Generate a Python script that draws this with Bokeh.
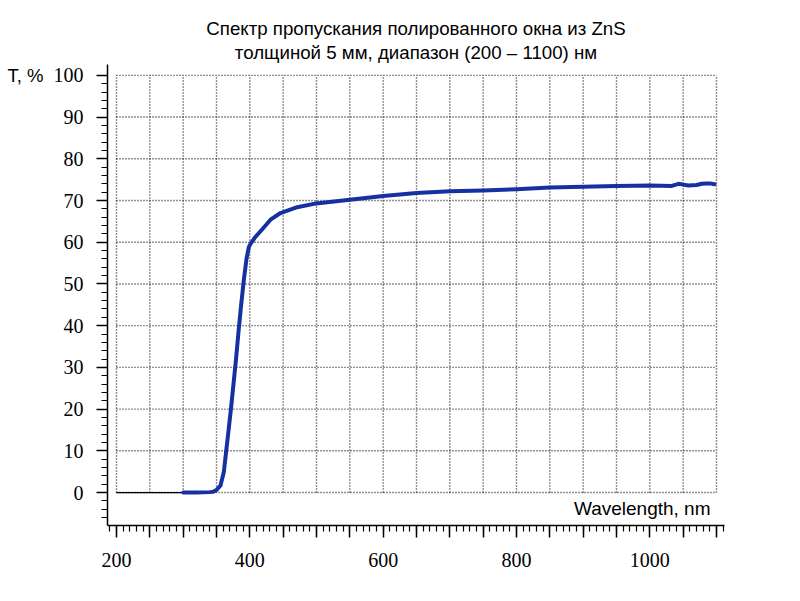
from bokeh.plotting import figure
from bokeh.models import Range1d, FixedTicker, Label, Title, LinearAxis
from bokeh.embed import file_html
from bokeh.resources import INLINE

# ---- data ----
wavelength = [300, 320, 340, 345, 350, 356, 361, 364.5, 368.5, 372, 375.5, 379,
              383, 387, 391, 395, 398.5, 401, 408, 418, 431, 446, 471, 496,
              550, 600, 650, 700, 750, 800, 850, 900, 950, 1000, 1033, 1043,
              1050, 1058, 1070, 1078, 1085, 1090, 1097]
transmission = [0, 0, 0.1, 0.2, 0.6, 1.7, 4.9, 9.9, 15.5, 20.5, 26, 31.5,
                38.5, 45, 51, 56, 58.8, 59.6, 61.2, 63, 65.4, 67, 68.4, 69.2,
                70.2, 71.1, 71.8, 72.2, 72.4, 72.7, 73.1, 73.3, 73.5, 73.6, 73.5, 74.0,
                73.8, 73.6, 73.7, 74.0, 74.1, 74.1, 73.9]
baseline_wl = [200, 300]
baseline_t = [0, 0]

x_major = list(range(200, 1101, 50))
x_labels = [200, 400, 600, 800, 1000]
x_minor = list(range(190, 1111, 10))
y_major = list(range(0, 101, 10))
y_minor = list(range(-6, 101, 2))
x_grid = list(range(200, 1101, 50))
y_grid = list(range(0, 101, 10))

title_line1 = "Спектр пропускания полированного окна из ZnS"
title_line2 = "толщиной 5 мм, диапазон (200 – 1100) нм"
y_title = "T, %"
x_title = "Wavelength, nm"

SANS = "Liberation Sans"
SERIF = "Liberation Serif"

p = figure(width=800, height=601, title=None,
           x_range=Range1d(186.5, 1112), y_range=Range1d(-7.9, 102.6),
           output_backend="svg", toolbar_location=None,
           min_border_left=107, min_border_right=76,
           min_border_bottom=76, min_border_top=64)
p.outline_line_color = None
p.xgrid.visible = False
p.ygrid.visible = False
p.background_fill_color = "white"
p.border_fill_color = "white"

# two centred title lines (second added first: it sits nearest the frame)
p.add_layout(Title(text=title_line2, align="center", text_font=SANS,
                   text_font_size="18.7px", text_font_style="normal",
                   text_color="black", standoff=3), "above")
p.add_layout(Title(text=title_line1, align="center", text_font=SANS,
                   text_font_size="18.7px", text_font_style="normal",
                   text_color="black", standoff=0), "above")

xa = p.xaxis[0]
ya = p.yaxis[0]
for ax in (xa, ya):
    ax.axis_line_color = "black"
    ax.axis_line_width = 1.5
    ax.major_tick_line_color = "black"
    ax.major_tick_line_width = 1.5
    ax.minor_tick_line_color = "black"
    ax.minor_tick_line_width = 1.2
    ax.major_tick_in = 0
    ax.minor_tick_in = 0
    ax.major_label_text_color = "black"
    ax.major_label_text_font = SERIF

xa.major_label_text_font_size = "20px"
ya.major_label_text_font_size = "20px"

xa.ticker = FixedTicker(ticks=x_major, minor_ticks=x_minor)
xa.major_label_overrides = {t: "" for t in x_major if t not in x_labels}
xa.major_tick_out = 12
xa.minor_tick_out = 6
xa.major_label_standoff = 15

ya.ticker = FixedTicker(ticks=y_major, minor_ticks=y_minor)
ya.major_tick_out = 11
ya.minor_tick_out = 6
ya.major_label_standoff = 13

# extra left axis carrying only the "T, %" caption beside the 100 tick
cap_axis = LinearAxis(ticker=FixedTicker(ticks=[y_major[-1]], minor_ticks=[]),
                      major_label_overrides={y_major[-1]: y_title},
                      axis_line_color=None, major_tick_line_color=None,
                      minor_tick_line_color=None, major_tick_out=0, major_tick_in=0,
                      minor_tick_out=0, minor_tick_in=0, major_label_standoff=7,
                      major_label_text_font=SANS, major_label_text_font_size="18.5px",
                      major_label_text_color="black")
p.add_layout(cap_axis, "left")

# dotted grid restricted to the data box
gx = [[g, g] for g in x_grid] + [[x_grid[0], x_grid[-1]] for g in y_grid]
gy = [[y_grid[0], y_grid[-1]] for g in x_grid] + [[g, g] for g in y_grid]
p.multi_line(gx, gy, line_color="#222222", line_width=1.4, line_dash="1 2")

# spectrum
p.line(baseline_wl, baseline_t, line_color="black", line_width=1.3)
p.line(wavelength, transmission, line_color="#1530a0", line_width=4,
       line_join="round", line_cap="round")

p.add_layout(Label(x=603, y=17, x_units="screen", y_units="screen", text=x_title,
                   text_font=SANS, text_font_size="19px",
                   text_align="right", text_baseline="middle", text_color="black"))

open("out.html", "w").write(file_html(p, INLINE))
